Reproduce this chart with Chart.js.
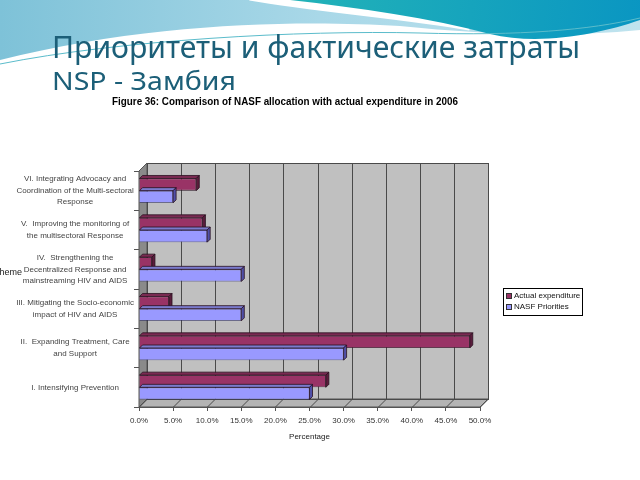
<!DOCTYPE html>
<html>
<head>
<meta charset="utf-8">
<script src="https://cdn.jsdelivr.net/npm/chart.js@4/dist/chart.umd.min.js"></script>
<style>
html,body{margin:0;padding:0;background:#fff;}
#wrap{position:absolute;left:0;top:0;width:640px;height:480px;}
</style>
</head>
<body>
<div id="wrap"><canvas id="c" width="640" height="480"></canvas></div>
<script>
// ---- data ----
const categories = [
  ["VI. Integrating Advocacy and", "Coordination of the Multi-sectoral", "Response"],
  ["V.  Improving the monitoring of", "the multisectoral Response"],
  ["IV.  Strengthening the", "Decentralized Response and", "mainstreaming HIV and AIDS"],
  ["III. Mitigating the Socio-economic", "impact of HIV and AIDS"],
  ["II.  Expanding Treatment, Care", "and Support"],
  ["I. Intensifying Prevention"]
];
const actualExpenditure = [8.4, 9.3, 1.9, 4.4, 48.5, 27.4];
const nasfPriorities = [5.0, 10.0, 15.0, 15.0, 30.0, 25.0];
const seriesNames = ["Actual expenditure", "NASF Priorities"];
const titleLine1 = "Приоритеты и фактические затраты";
const titleLine2 = "NSP - Замбия";
const figureCaption = "Figure 36: Comparison of NASF allocation with actual expenditure in 2006";
const xAxisTitle = "Percentage";
const yAxisTitle = "Theme";

const DX = 8, DY = -8;

function fitText(ctx, text, x, y, font, width) {
  ctx.save();
  ctx.font = font;
  const w = ctx.measureText(text).width;
  ctx.translate(x, y);
  ctx.scale(width / w, 1);
  ctx.fillText(text, 0, 0);
  ctx.restore();
}

const slidePlugin = {
  id: 'slide',
  beforeDraw(chart) {
    const ctx = chart.ctx;
    ctx.save();
    ctx.fillStyle = '#ffffff';
    ctx.fillRect(0, 0, 640, 480);
    // light blue wave
    let g = ctx.createLinearGradient(0, 0, 640, 0);
    g.addColorStop(0, '#7ec2d8');
    g.addColorStop(0.5, '#a9d8e8');
    g.addColorStop(1, '#bfe3ee');
    ctx.fillStyle = g;
    ctx.beginPath();
    ctx.moveTo(0, 0); ctx.lineTo(640, 0); ctx.lineTo(640, 30);
    ctx.bezierCurveTo(560, 38, 480, 34, 400, 26);
    ctx.bezierCurveTo(300, 20, 150, 22, 0, 60);
    ctx.closePath(); ctx.fill();
    // white sweep
    ctx.strokeStyle = '#ffffff';
    ctx.lineWidth = 9;
    ctx.beginPath();
    ctx.moveTo(250, -4);
    ctx.bezierCurveTo(320, 8, 400, 14, 470, 26);
    ctx.stroke();
    // teal region
    g = ctx.createLinearGradient(300, 0, 640, 40);
    g.addColorStop(0, '#22b2b8');
    g.addColorStop(1, '#0a96c2');
    ctx.fillStyle = g;
    ctx.beginPath();
    ctx.moveTo(290, 0);
    ctx.bezierCurveTo(360, 8, 430, 18, 490, 34);
    ctx.bezierCurveTo(540, 46, 600, 34, 640, 20);
    ctx.lineTo(640, 0);
    ctx.closePath(); ctx.fill();
    // thin line
    ctx.strokeStyle = '#5bbccb';
    ctx.lineWidth = 1;
    ctx.beginPath();
    ctx.moveTo(0, 64);
    ctx.bezierCurveTo(120, 40, 300, 30, 420, 33);
    ctx.bezierCurveTo(520, 36, 590, 30, 640, 18);
    ctx.stroke();
    // titles
    ctx.fillStyle = '#1c5f78';
    ctx.textBaseline = 'alphabetic';
    ctx.textAlign = 'left';
    fitText(ctx, titleLine1, 52, 58, '31px "Noto Sans"', 528);
    fitText(ctx, titleLine2, 52, 90, '26px "Noto Sans"', 184);
    ctx.fillStyle = '#000';
    ctx.textBaseline = 'middle';
    fitText(ctx, figureCaption, 112, 102, 'bold 11px "Liberation Sans"', 346);
    // truncated y-axis title
    ctx.fillStyle = '#222';
    ctx.font = '9px "Liberation Sans"';
    ctx.textAlign = 'right';
    ctx.fillText(yAxisTitle, 22, 273);
    ctx.restore();
  },
  beforeDatasetsDraw(chart) {
    const ctx = chart.ctx;
    const a = chart.chartArea;
    const xs = chart.scales.x;
    ctx.save();
    // back wall
    ctx.fillStyle = '#c0c0c0';
    ctx.strokeStyle = '#555';
    ctx.lineWidth = 1;
    ctx.fillRect(a.left + DX, a.top + DY, a.right - a.left, a.bottom - a.top);
    // left wall
    ctx.fillStyle = '#8a8a8a';
    ctx.beginPath();
    ctx.moveTo(a.left, a.top); ctx.lineTo(a.left + DX, a.top + DY);
    ctx.lineTo(a.left + DX, a.bottom + DY); ctx.lineTo(a.left, a.bottom);
    ctx.closePath(); ctx.fill(); ctx.stroke();
    // floor
    ctx.fillStyle = '#b4b4b4';
    ctx.beginPath();
    ctx.moveTo(a.left, a.bottom); ctx.lineTo(a.left + DX, a.bottom + DY);
    ctx.lineTo(a.right + DX, a.bottom + DY); ctx.lineTo(a.right, a.bottom);
    ctx.closePath(); ctx.fill(); ctx.stroke();
    // grid lines
    ctx.strokeStyle = '#4a4a4a';
    xs.ticks.forEach(t => {
      const px = Math.round(xs.getPixelForValue(t.value)) + 0.5;
      ctx.beginPath();
      ctx.moveTo(px + DX, a.top + DY);
      ctx.lineTo(px + DX, a.bottom + DY);
      ctx.lineTo(px, a.bottom);
      ctx.stroke();
    });
    ctx.strokeRect(a.left + DX + 0.5, a.top + DY + 0.5, a.right - a.left, a.bottom - a.top);
    ctx.restore();
  },
  afterDatasetsDraw(chart) {
    const ctx = chart.ctx;
    const d = 3;
    const sideCols = ['#5a1d3c', '#5050a8'];
    const topCols = ['#7a2a52', '#7a7acc'];
    ctx.save();
    ctx.strokeStyle = '#2a1020';
    ctx.lineWidth = 0.8;
    chart.data.datasets.forEach((ds, i) => {
      chart.getDatasetMeta(i).data.forEach(bar => {
        const p = bar.getProps(['x', 'y', 'base', 'height'], true);
        const t = p.y - p.height / 2, b = p.y + p.height / 2;
        ctx.fillStyle = topCols[i];
        ctx.beginPath();
        ctx.moveTo(p.base, t); ctx.lineTo(p.base + d, t - d);
        ctx.lineTo(p.x + d, t - d); ctx.lineTo(p.x, t); ctx.closePath();
        ctx.fill(); ctx.stroke();
        ctx.fillStyle = sideCols[i];
        ctx.beginPath();
        ctx.moveTo(p.x, t); ctx.lineTo(p.x + d, t - d);
        ctx.lineTo(p.x + d, b - d); ctx.lineTo(p.x, b); ctx.closePath();
        ctx.fill(); ctx.stroke();
      });
    });
    ctx.restore();
  },
  afterDraw(chart) {
    // legend
    const ctx = chart.ctx;
    ctx.save();
    ctx.fillStyle = '#fff';
    ctx.fillRect(503, 288, 79, 27);
    ctx.strokeStyle = '#000';
    ctx.lineWidth = 1;
    ctx.strokeRect(503.5, 288.5, 79, 27);
    ctx.font = '8px "Liberation Sans"';
    ctx.textBaseline = 'middle';
    ctx.textAlign = 'left';
    chart.data.datasets.forEach((ds, i) => {
      const y = 296 + i * 11;
      ctx.fillStyle = ds.backgroundColor;
      ctx.fillRect(506, y - 3, 6, 6);
      ctx.strokeStyle = '#333';
      ctx.strokeRect(506.5, y - 2.5, 5, 5);
      ctx.fillStyle = '#111';
      ctx.fillText(ds.label, 514, y);
    });
    ctx.restore();
  }
};

new Chart(document.getElementById('c'), {
  type: 'bar',
  data: {
    labels: categories,
    datasets: [
      { label: seriesNames[0], data: actualExpenditure, backgroundColor: '#993366', borderColor: '#2a1020', borderWidth: 0.8 },
      { label: seriesNames[1], data: nasfPriorities, backgroundColor: '#9999ff', borderColor: '#2a2a60', borderWidth: 0.8 }
    ]
  },
  options: {
    indexAxis: 'y',
    responsive: false,
    animation: false,
    devicePixelRatio: 1,
    layout: { padding: { left: 0, top: 171, right: 160, bottom: 37 } },
    datasets: { bar: { categoryPercentage: 0.62, barPercentage: 1.0 } },
    plugins: { legend: { display: false }, tooltip: { enabled: false } },
    scales: {
      x: {
        min: 0, max: 50,
        ticks: { stepSize: 5, color: '#333', font: { family: 'Liberation Sans', size: 8 }, padding: 5,
          callback: v => v.toFixed(1) + '%' },
        grid: { drawOnChartArea: false, tickLength: 4, color: '#555' },
        border: { display: true, color: '#555' },
        title: { display: true, text: xAxisTitle, color: '#222', font: { family: 'Liberation Sans', size: 8 }, padding: { top: 2, bottom: 1 } },
        afterFit: s => { s.height = 36; }
      },
      y: {
        ticks: { color: '#444', font: { family: 'Liberation Sans', size: 8, lineHeight: 1.45 }, crossAlign: 'center', padding: 0, autoSkip: false },
        grid: { drawOnChartArea: false, offset: true, tickLength: 5, color: '#555' },
        border: { display: true, color: '#555' },
        afterFit: s => { s.width = 139; }
      }
    }
  },
  plugins: [slidePlugin]
});
</script>
</body>
</html>
